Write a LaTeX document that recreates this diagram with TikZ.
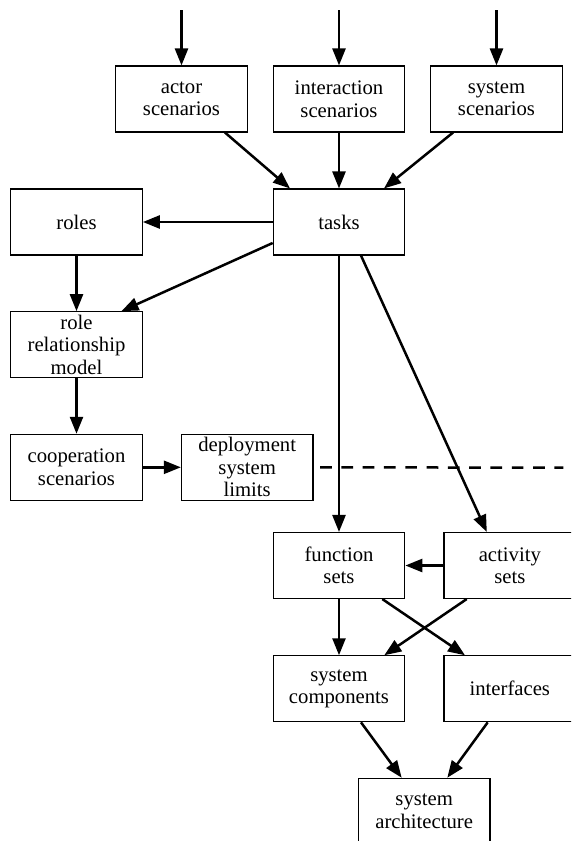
\documentclass[tikz,border=0pt]{standalone}
\usepackage{fontspec}
\setmainfont{Liberation Serif}
\usetikzlibrary{arrows.meta,calc}
\begin{document}
\begin{tikzpicture}[x=1pt,y=-1pt,
  box/.style={draw=black,line width=1.1pt,minimum width=131.6pt,minimum height=66pt,inner sep=0pt,align=center,font=\fontsize{20.7}{22.5}\selectfont},
  arr/.style={line width=2.5pt,-{Triangle[length=17pt,width=13pt]}},
  dashline/.style={line width=2.5pt,dash pattern=on 11.7pt off 9.6pt}
]
\useasboundingbox (0,0) rectangle (571,841);
\clip (0,0) rectangle (571,841);

\node[box] (actor) at (181.5,99) {actor\\scenarios};
\node[box] (inter) at (339,99) {interaction\\scenarios};
\node[box] (sysscen) at (496.5,99) {system\\scenarios};
\node[box] (tasks) at (339,222) {tasks};
\node[box] (roles) at (76.5,222) {roles};
\node[box] (rrm) at (76.5,344.7) {role\\relationship\\model};
\node[box] (coop) at (76.5,467.3) {cooperation\\scenarios};
\node[box] (deploy) at (247.2,467.3) {deployment\\system\\limits};
\node[box] (func) at (339,565.5) {function\\sets};
\node[box] (act) at (509.8,565.5) {activity\\sets};
\node[box] (comp) at (339,688.8) {system\\components};
\node[box] (intf) at (509.8,688.8) {interfaces};
\node[box] (arch) at (424.2,811.3) {system\\architecture};

\coordinate (in1) at (181.5,10);
\coordinate (in2) at (339,10);
\coordinate (in3) at (496.5,10);
\coordinate (dashend) at (563.3,467.7);

\draw[arr] (in1) -- (actor.north);
\draw[arr] (in2) -- (inter.north);
\draw[arr] (in3) -- (sysscen.north);

\draw[arr] ([xshift=43.5pt]actor.south) -- ([xshift=-49pt]tasks.north);
\draw[arr] (inter.south) -- (tasks.north);
\draw[arr] ([xshift=-43.5pt]sysscen.south) -- ([xshift=45pt]tasks.north);

\draw[arr] (tasks.west) -- (roles.east);
\draw[arr] ([yshift=-21pt]tasks.west) -- ([xshift=45pt]rrm.north);
\draw[arr] (roles.south) -- (rrm.north);
\draw[arr] (rrm.south) -- (coop.north);
\draw[arr] (coop.east) -- (deploy.west);
\draw[dashline] ([xshift=6.5pt]deploy.east) -- (dashend);

\draw[arr] (tasks.south) -- (func.north);
\draw[arr] ([xshift=22pt]tasks.south) -- ([xshift=-23pt]act.north);
\draw[arr] (act.west) -- (func.east);

\draw[arr] (func.south) -- (comp.north);
\draw[arr] ([xshift=43.3pt]func.south) -- ([xshift=-44.8pt]intf.north);
\draw[arr] ([xshift=-43.1pt]act.south) -- ([xshift=45.3pt]comp.north);

\draw[arr] ([xshift=22pt]comp.south) -- ([xshift=-22.5pt]arch.north);
\draw[arr] ([xshift=-22.1pt]intf.south) -- ([xshift=23.1pt]arch.north);
\end{tikzpicture}
\end{document}
